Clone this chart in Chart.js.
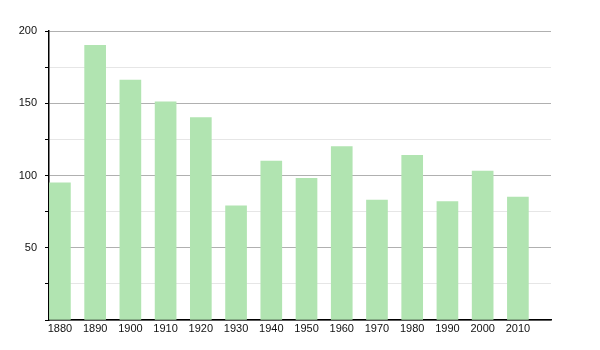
<!DOCTYPE html>
<html>
<head>
<meta charset="utf-8">
<script src="https://cdn.jsdelivr.net/npm/chart.js@4"></script>
<style>
  html, body { margin: 0; padding: 0; background: #fff; }
  #wrap { width: 600px; height: 350px; }
</style>
</head>
<body>
<div id="wrap"><canvas id="myChart"></canvas></div>
<script>
// years on the x axis
var years = [1880, 1890, 1900, 1910, 1920, 1930, 1940, 1950, 1960, 1970, 1980, 1990, 2000, 2010];
// population values
var values = [95, 190, 166, 151, 140, 79, 110, 98, 120, 83, 114, 82, 103, 85];
// y tick labels shown
var yLabels = [50, 100, 150, 200];

var ctx = document.getElementById("myChart");

new Chart(ctx, {
  type: "bar",
  data: {
    datasets: [
      {
        data: years.map(function (y, i) {
          return { x: y, y: values[i] };
        }),
        backgroundColor: "#b1e4b1",
        borderWidth: 0,
        barThickness: 21,
      },
    ],
  },
  options: {
    responsive: true,
    maintainAspectRatio: false,
    animation: false,
    layout: { padding: { left: 0, right: 49, top: 31, bottom: 0 } },
    plugins: { legend: { display: false }, tooltip: { enabled: false } },
    scales: {
      x: {
        type: "linear",
        offset: false,
        min: 1876.9,
        max: 2019.4,
        afterBuildTicks: function (scale) {
          scale.ticks = years.map(function (v) { return { value: v }; });
        },
        afterFit: function (scale) { scale.height = 30; },
        grid: { display: false, drawTicks: false },
        border: { color: "#000", width: 1.5 },
        ticks: {
          padding: 2,
          color: "#111",
          font: { family: "Liberation Sans", size: 11 },
          maxRotation: 0,
          autoSkip: false,
          callback: function (v) { return String(v); },
        },
      },
      y: {
        min: 0,
        max: 200,
        afterFit: function (scale) { scale.width = 49; },
        grid: {
          color: function (c) {
            if (!c.tick) return "#e6e6e6";
            return c.tick.value % 50 === 0 ? "#b0b0b0" : "#e6e6e6";
          },
          tickColor: "#000",
          tickLength: 4,
          lineWidth: 1,
        },
        border: { color: "#000", width: 1.5 },
        ticks: {
          stepSize: 25,
          padding: 8,
          color: "#111",
          font: { family: "Liberation Sans", size: 11 },
          callback: function (v) {
            return yLabels.indexOf(v) >= 0 ? String(v) : "";
          },
        },
      },
    },
  },
});
</script>
</body>
</html>
